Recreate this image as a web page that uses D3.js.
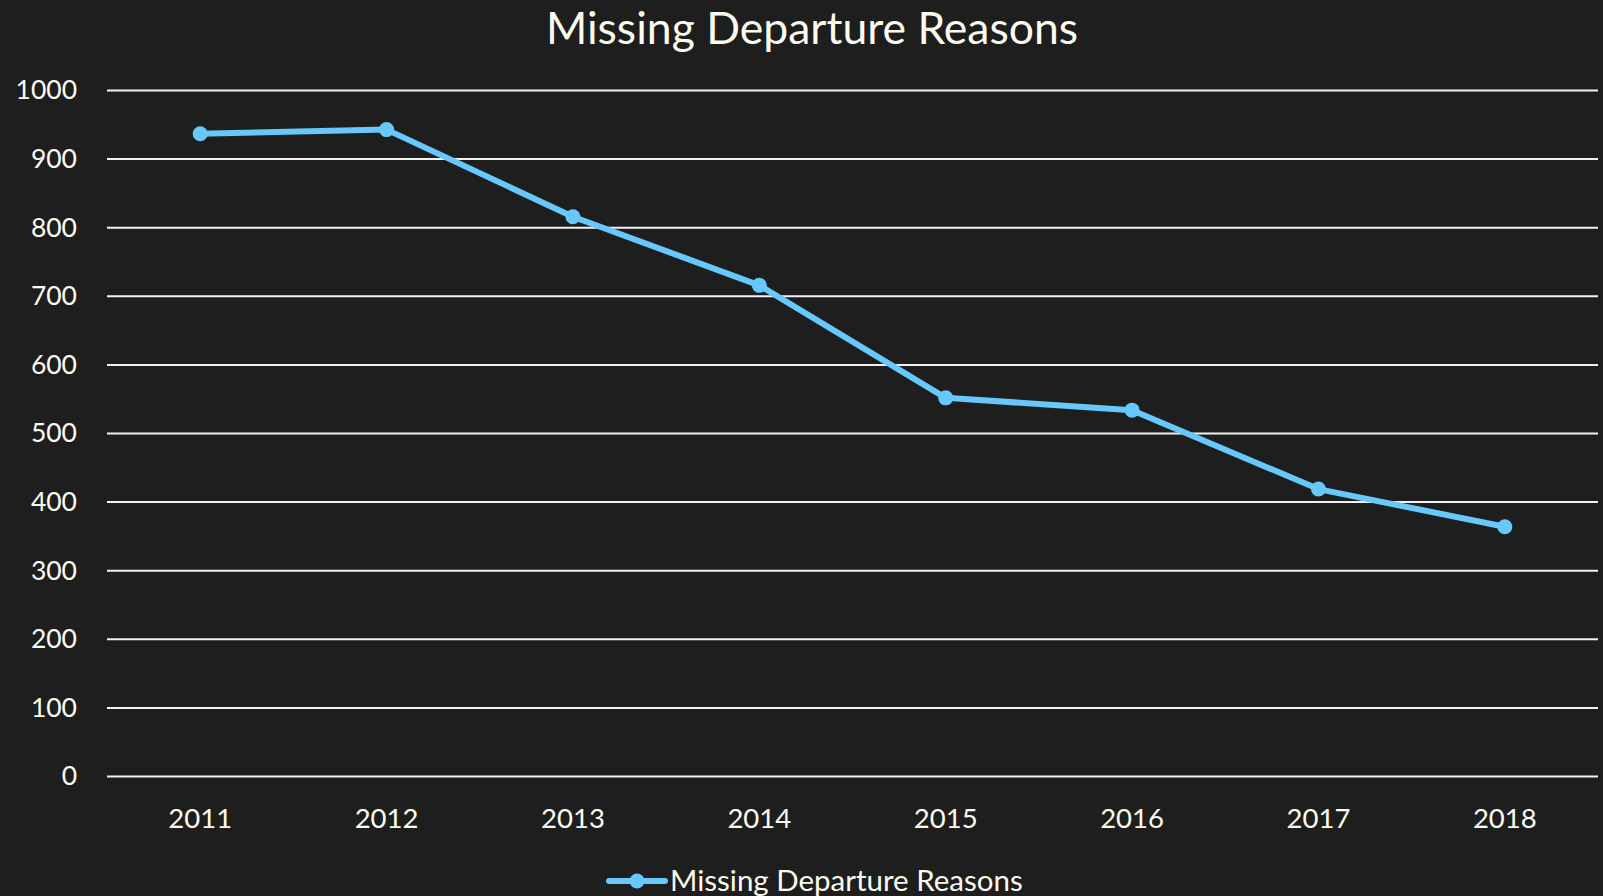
<!DOCTYPE html>
<html lang="en">
<head>
    <meta charset="utf-8">
    <title>Missing Departure Reasons</title>
    <script src="https://d3js.org/d3.v7.min.js" charset="utf-8"></script>
    <style type="text/css">
        html, body { margin: 0; padding: 0; background: #1e1e1e; }
        svg { display: block; }
    </style>
</head>
<body>
<svg id="chart"></svg>
<script type="text/javascript">

    var years = ['2011', '2012', '2013', '2014', '2015', '2016', '2017', '2018'];
    var missingReasons = [937, 943, 816, 716, 552, 534, 419, 364];
    var yTicks = [0, 100, 200, 300, 400, 500, 600, 700, 800, 900, 1000];
    var seriesName = 'Missing Departure Reasons';

    var width = 1603, height = 896;
    var fontFamily = 'Lato, "Open Sans", sans-serif';
    var textColor = '#fbfbef';
    var lineColor = '#66c8fb';

    var svg = d3.select('#chart')
            .attr('width', width)
            .attr('height', height)
            .style('background', '#1e1e1e');

    var x = d3.scaleBand().domain(years).range([107, 1598]);
    var y = d3.scaleLinear().domain([0, 1000]).range([776.5, 90.5]);

    // title
    svg.append('text')
            .attr('x', 812)
            .attr('y', 44)
            .attr('text-anchor', 'middle')
            .style('font-family', fontFamily)
            .style('font-size', '44.5px')
            .style('fill', textColor)
            .text(seriesName);

    // gridlines
    svg.append('g')
            .selectAll('line')
            .data(yTicks)
            .enter().append('line')
            .attr('x1', 107)
            .attr('x2', 1598)
            .attr('y1', function (d) { return y(d); })
            .attr('y2', function (d) { return y(d); })
            .style('stroke', '#f2f2f2')
            .style('stroke-width', 2);

    // y axis labels
    var yAxis = svg.append('g')
            .attr('transform', 'translate(77,0)')
            .call(d3.axisLeft(y).tickValues(yTicks).tickFormat(d3.format('d')).tickSize(0).tickPadding(0));
    yAxis.select('.domain').remove();
    yAxis.selectAll('text')
            .style('font-family', fontFamily)
            .style('font-size', '26.5px')
            .style('fill', textColor);

    // x axis labels
    var xAxis = svg.append('g')
            .attr('transform', 'translate(0,808)')
            .call(d3.axisBottom(x).tickSize(0).tickPadding(0));
    xAxis.select('.domain').remove();
    xAxis.selectAll('text')
            .style('font-family', fontFamily)
            .style('font-size', '27.5px')
            .style('fill', textColor);

    var cx = function (d, i) { return x(years[i]) + x.bandwidth() / 2; };

    var line = d3.line()
            .x(cx)
            .y(function (d) { return y(d); });

    svg.append('path')
            .datum(missingReasons)
            .attr('d', line)
            .style('fill', 'none')
            .style('stroke', lineColor)
            .style('stroke-width', 6)
            .style('stroke-linejoin', 'round');

    svg.append('g')
            .selectAll('circle')
            .data(missingReasons)
            .enter().append('circle')
            .attr('cx', cx)
            .attr('cy', function (d) { return y(d); })
            .attr('r', 7.5)
            .style('fill', lineColor);

    // legend
    var legend = svg.append('g').attr('transform', 'translate(609,881)');
    legend.append('line')
            .attr('x1', 0)
            .attr('x2', 56)
            .style('stroke', lineColor)
            .style('stroke-width', 6)
            .style('stroke-linecap', 'round');
    legend.append('circle')
            .attr('cx', 28)
            .attr('r', 7.5)
            .style('fill', lineColor);
    legend.append('text')
            .attr('x', 61)
            .attr('y', 10)
            .style('font-family', fontFamily)
            .style('font-size', '29.5px')
            .style('fill', textColor)
            .text(seriesName);
</script>
</body>
</html>
